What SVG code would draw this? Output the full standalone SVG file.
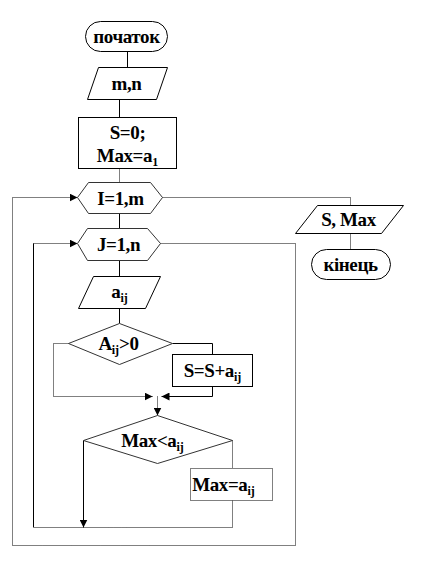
<svg xmlns="http://www.w3.org/2000/svg" width="429" height="562" viewBox="0 0 429 562">
<style>
.bg{fill:#fff}
.sh{fill:#fff;stroke:#000;stroke-width:1}
.shg{fill:#fff;stroke:#333;stroke-width:1}
.shd{fill:#fff;stroke:#000;stroke-width:1;stroke-dasharray:1 1}
.t{font-family:"Liberation Serif","Times New Roman",serif;font-weight:bold;font-size:19px;letter-spacing:-0.4px;fill:#000;text-anchor:middle}
.sub{font-size:12px;letter-spacing:0}
.ln{fill:none;stroke:#000;stroke-width:1}
.dl{fill:none;stroke:#000;stroke-width:1;stroke-dasharray:1 1}
</style>
<defs>
<marker id="ar" viewBox="0 0 8 8" refX="8" refY="4" markerWidth="8" markerHeight="8" markerUnits="userSpaceOnUse" orient="auto">
<path d="M0,0 L8,4 L0,8 Z" fill="#000"/>
</marker>
</defs>
<rect class="bg" x="0" y="0" width="429" height="562"/>
<g transform="translate(0.5,0.5)">
<g id="connectors">
<path class="ln" d="M127,51 V67"/>
<path class="ln" d="M119,99 V117"/>
<path class="dl" d="M119,168 V182"/>
<path class="ln" d="M119,213 V228"/>
<path class="ln" d="M119,260 V276"/>
<path class="ln" d="M119,308 V323"/>
<path class="dl" d="M68,343 H53 V396 H152" marker-end="url(#ar)"/>
<path class="ln" d="M172,343 H212 V354"/>
<path class="ln" d="M212,386 V396 H161" marker-end="url(#ar)"/>
<path class="dl" d="M157,396 V415" marker-end="url(#ar)"/>
<path class="ln" d="M83,440 V527" marker-end="url(#ar)"/>
<path class="dl" d="M232,440 V468"/>
<path class="dl" d="M232,500 V527 H33"/>
<path class="ln" d="M33,527 V243"/>
<path class="dl" d="M33,243 H77" marker-end="url(#ar)"/>
<path class="dl" d="M160,243 H295 V545 H12 V197 H77" marker-end="url(#ar)"/>
<path class="dl" d="M162,197 H350 V205"/>
<path class="dl" d="M350,233 V249"/>
</g>
<g id="start">
<rect class="sh" x="85" y="21" width="82" height="30" rx="15" ry="15"/>
<text class="t" x="126" y="42">початок</text>
</g>
<g id="input-mn">
<polygon class="sh" points="98,67 167,67 156,99 87,99"/>
<text class="t" x="126" y="89">m,n</text>
</g>
<g id="init">
<rect class="sh" x="78" y="117" width="98" height="51"/>
<text class="t" x="127" y="138">S=0;</text>
<text class="t" x="127" y="161">Max=a<tspan class="sub" dy="4">1</tspan></text>
</g>
<g id="loop-i">
<polygon class="shg" points="77,197 88,182 150,182 162,197 150,213 88,213"/>
<text class="t" x="120" y="204">I=1,m</text>
</g>
<g id="loop-j">
<polygon class="shg" points="77,243 87,228 147,228 160,243 147,260 87,260"/>
<text class="t" x="118" y="250">J=1,n</text>
</g>
<g id="input-aij">
<polygon class="sh" points="93,276 160,276 145,308 78,308"/>
<text class="t" x="119" y="297">a<tspan class="sub" dy="4">ij</tspan></text>
</g>
<g id="cond-pos">
<polygon class="shg" points="68,343 119,323 172,343 119,364"/>
<text class="t" x="118" y="349">A<tspan class="sub" dy="4">ij</tspan><tspan dy="-4">&gt;0</tspan></text>
</g>
<g id="sum">
<rect class="sh" x="172" y="354" width="80" height="32"/>
<text class="t" x="212" y="376">S=S+a<tspan class="sub" dy="4">ij</tspan></text>
</g>
<g id="cond-max">
<polygon class="shg" points="83,440 157,415 232,440 157,463"/>
<text class="t" x="152" y="446">Max&lt;a<tspan class="sub" dy="4">ij</tspan></text>
</g>
<g id="assign-max">
<rect class="shd" x="190" y="468" width="82" height="32"/>
<text class="t" x="223" y="490">Max=a<tspan class="sub" dy="4">ij</tspan></text>
</g>
<g id="output">
<polygon class="sh" points="317,205 403,205 381,233 295,233"/>
<text class="t" x="348" y="225">S, Max</text>
</g>
<g id="end">
<rect class="sh" x="311" y="249" width="79" height="30" rx="15" ry="15"/>
<text class="t" x="350" y="270">кінець</text>
</g>
</g>
</svg>
